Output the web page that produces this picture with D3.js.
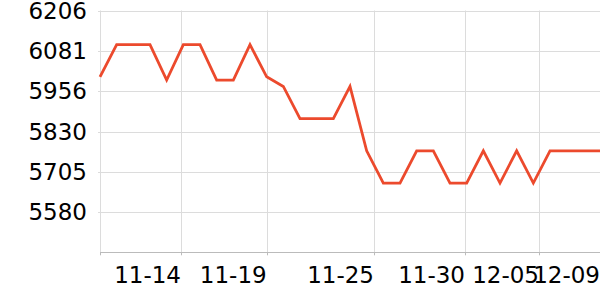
<!DOCTYPE html>
<html><head><meta charset="utf-8">
<script src="https://cdn.jsdelivr.net/npm/d3@7"></script>
<style>html,body{margin:0;padding:0;background:#fff}svg{display:block}</style>
</head><body>
<svg id="c" width="600" height="300"></svg>
<script>
// data: one value per trading day (index order)
const values = [6000,6100,6100,6100,5990,6100,6100,5990,5990,6100,6000,5970,5870,5870,5870,5970,5770,5670,5670,5770,5770,5670,5670,5770,5670,5770,5670,5770,5770,5770,5770];
const yTicks = [5580,5705,5830,5956,6081,6206];
const yMin = 5454.8;
const xTickLabels = ["11-14","11-19","11-25","11-30","12-05","12-09"];
const xTickIndex = [4.86,10.0,16.44,21.9,26.34,30];

(function(){
const svg = d3.select("#c");
const mL = 100, mR = 600, mT = 10.5, mB = 252.3;
const x = d3.scaleLinear().domain([0, values.length-1]).range([mL, mR]);
const y = d3.scaleLinear().domain([yMin, 6206]).range([mB, mT]);
const font = "DejaVu Sans";
const grid = "#dcdcdc";

// horizontal grid
svg.append("g").selectAll("line").data(yTicks).join("line")
  .attr("x1", mL-2).attr("x2", mR)
  .attr("y1", d=>Math.round(y(d))+0.5).attr("y2", d=>Math.round(y(d))+0.5)
  .attr("stroke", grid).attr("stroke-width",1);
// vertical grid
svg.append("g").selectAll("line").data(xTickIndex).join("line")
  .attr("x1", d=>Math.round(x(d))+0.5).attr("x2", d=>Math.round(x(d))+0.5)
  .attr("y1", mT).attr("y2", mB)
  .attr("stroke", grid).attr("stroke-width",1);
// left axis line
svg.append("line").attr("x1", mL+0.5).attr("x2", mL+0.5).attr("y1", mT).attr("y2", mB+2)
  .attr("stroke", grid);
// bottom axis
svg.append("line").attr("x1", mL).attr("x2", mR).attr("y1", Math.round(mB)+0.5).attr("y2", Math.round(mB)+0.5)
  .attr("stroke", "#bbbbbb").attr("stroke-width",1);
svg.append("g").selectAll("line").data([0].concat(xTickIndex)).join("line")
  .attr("x1", d=>Math.round(x(d))+0.5).attr("x2", d=>Math.round(x(d))+0.5)
  .attr("y1", mB).attr("y2", mB+3)
  .attr("stroke", "#bbbbbb");

// y labels
svg.append("g").selectAll("text").data(yTicks).join("text")
  .attr("x", 87).attr("y", d=>y(d)).attr("dy","0.36em")
  .attr("text-anchor","end").attr("font-family",font).attr("font-size",23)
  .attr("fill","#000").text(d=>d);
// x labels
svg.append("g").selectAll("text").data(xTickIndex).join("text")
  .attr("x", d=>x(d)).attr("y", 283)
  .attr("text-anchor","end").attr("font-family",font).attr("font-size",23)
  .attr("fill","#000").text((d,i)=>xTickLabels[i]);

// line
const line = d3.line().x((d,i)=>x(i)).y(d=>y(d));
svg.append("path").datum(values).attr("d", line)
  .attr("fill","none").attr("stroke","#ec4a2d").attr("stroke-width",2.8)
  .attr("stroke-linejoin","miter");
})();
</script>
</body></html>
